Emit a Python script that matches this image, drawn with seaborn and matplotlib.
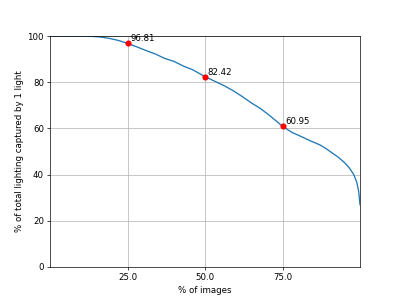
import matplotlib
matplotlib.use("Agg")
import matplotlib.pyplot as plt
import seaborn as sns
import pandas as pd

# data
pct_images = [0, 5, 10, 13, 16, 19, 22, 25, 28, 31, 34, 37, 40, 43, 46, 50,
              53, 56, 59, 62, 65, 68, 71, 75, 78, 81, 84, 87, 89, 91, 93,
              95, 96.5, 98, 99, 99.6, 100]
pct_light = [100, 100, 100, 99.9, 99.6, 99.0, 98.1, 96.81, 95.3, 93.7, 92.2,
             90.3, 89.0, 87.0, 85.4, 82.42, 80.5, 78.6, 76.4, 73.8, 71.0,
             68.5, 65.4, 60.95, 58.3, 56.5, 54.6, 52.9, 51.3, 49.4, 47.5,
             45.2, 43.0, 40.0, 36.5, 32.5, 27.0]
mark_x = [25, 50, 75]
mark_y = [96.81, 82.42, 60.95]
mark_labels = ["96.81", "82.42", "60.95"]
x_ticks = [25.0, 50.0, 75.0]
y_ticks = [0, 20, 40, 60, 80, 100]

plt.rcParams["font.family"] = ["DejaVu Sans"]
fig, ax = plt.subplots(figsize=(6.4, 4.8), dpi=62.5)

df = pd.DataFrame({"x": pct_images, "y": pct_light})
sns.lineplot(data=df, x="x", y="y", ax=ax, color="#1f77b4", linewidth=1.5)
mdf = pd.DataFrame({"x": mark_x, "y": mark_y})
sns.scatterplot(data=mdf, x="x", y="y", ax=ax, color="red", s=50,
                edgecolor="red", linewidth=0, zorder=5)
for xv, yv, lab in zip(mark_x, mark_y, mark_labels):
    ax.text(xv + 0.9, yv, lab, fontsize=10, va="bottom", ha="left")

ax.set_xlim(0, 100)
ax.set_ylim(0, 100)
ax.set_xticks(x_ticks)
ax.set_xticklabels([f"{t:.1f}" for t in x_ticks])
ax.set_yticks(y_ticks)
ax.grid(True, color="#b0b0b0", linewidth=0.8)
ax.set_axisbelow(True)
ax.set_xlabel("% of images")
ax.set_ylabel("% of total lighting captured by 1 light")

fig.savefig("out.png", dpi=62.5)
